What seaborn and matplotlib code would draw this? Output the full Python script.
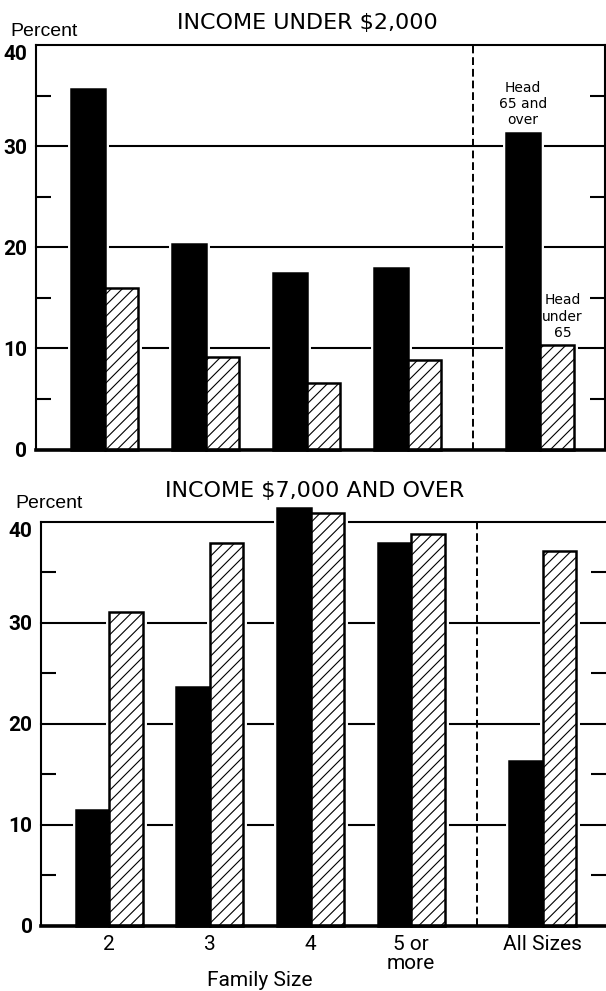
import pandas as pd
import matplotlib
matplotlib.use("Agg")
import matplotlib.pyplot as plt
import matplotlib.transforms as mtransforms
from matplotlib.patches import Rectangle
from matplotlib.ticker import FixedLocator
import seaborn as sns

# data (percent of families)
family_sizes = ["2", "3", "4", "5 or\nmore", "All Sizes"]
head_groups = ["Head 65 and over", "Head under 65"]

under_2000_old = [35.6, 20.3, 17.5, 17.9, 31.3]
under_2000_young = [16.0, 9.1, 6.6, 8.9, 10.3]
over_7000_old = [11.5, 23.6, 41.4, 37.9, 16.3]
over_7000_young = [31.1, 37.9, 40.9, 38.8, 37.1]

y_ticks = [0, 10, 20, 30, 40]
y_minor = [5, 15, 25, 35]

# layout: extra gap before the "All Sizes" group
x_pos = [0, 1, 2, 3, 4.31]
divider_x = 3.65

plt.rcParams["font.family"] = ["Roboto", "DejaVu Sans"]
plt.rcParams["hatch.linewidth"] = 0.8


def make_frame(old, young):
    return pd.DataFrame({
        "pos": x_pos * 2,
        "head": [head_groups[0]] * len(old) + [head_groups[1]] * len(young),
        "pct": old + young,
    })


def draw_panel(ax, df, xlim, right_spine):
    sns.barplot(data=df, x="pos", y="pct", hue="head", hue_order=head_groups,
                palette={head_groups[0]: "black", head_groups[1]: "white"},
                native_scale=True, width=0.665, gap=0, errorbar=None,
                legend=False, saturation=1, edgecolor="black", linewidth=1.8,
                ax=ax)
    for bar in ax.containers[1]:
        bar.set_hatch("///")
    # white halo behind each bar so grid lines stop short of the bars
    for bar in list(ax.patches):
        bar.set_zorder(3)
        bar.set_clip_on(False)
        halo = Rectangle(bar.get_xy(), bar.get_width(), bar.get_height(),
                         facecolor="white", edgecolor="white", lw=5,
                         joinstyle="miter", zorder=2, clip_on=False)
        ax.add_patch(halo)

    for y in y_ticks[1:]:
        ax.axhline(y, color="black", lw=1.5, zorder=1, clip_on=False)
    ax.axvline(divider_x, color="black", lw=1.4, ls=(0, (4, 2)), zorder=1)

    ax.set_xlim(*xlim)
    ax.set_ylim(0, 40)
    ax.set_yticks(y_ticks)
    ax.set_yticklabels([str(v) for v in y_ticks], fontsize=15, fontweight="bold")
    # the top label hangs below the frame line
    ax.get_yticklabels()[-1].set_verticalalignment("top")
    ax.yaxis.set_minor_locator(FixedLocator(y_minor))
    ax.tick_params(axis="y", which="major", length=0, pad=6)
    ax.tick_params(axis="y", which="minor", direction="in", length=11,
                   width=1.5, left=True, right=True)
    ax.set_xlabel("")
    ax.set_ylabel("")

    ax.spines["top"].set_visible(False)
    ax.spines["left"].set_linewidth(1.5)
    ax.spines["bottom"].set_linewidth(2.6)
    ax.spines["bottom"].set_zorder(4)
    if right_spine:
        ax.spines["right"].set_linewidth(1.5)
    else:
        ax.spines["right"].set_visible(False)


fig = plt.figure(figsize=(6.06, 9.91), dpi=100)

# top panel: income under $2,000
ax1 = fig.add_axes([0.0586, 0.5464, 0.9398, 0.4082])
draw_panel(ax1, make_frame(under_2000_old, under_2000_young), (-0.684, 4.954), True)
ax1.set_xticks([])

old_bar = ax1.containers[0][-1]
young_bar = ax1.containers[1][-1]
ax1.annotate("Head\n65 and\nover",
             xy=(old_bar.get_x() + old_bar.get_width() / 2, old_bar.get_height()),
             xytext=(0, 4), textcoords="offset points", ha="center", va="bottom",
             fontsize=10, family="DejaVu Sans", linespacing=1.2)
ax1.annotate("Head\nunder\n65",
             xy=(young_bar.get_x() + young_bar.get_width() / 2, young_bar.get_height()),
             xytext=(4, 4), textcoords="offset points", ha="center", va="bottom",
             fontsize=10, family="DejaVu Sans", linespacing=1.2)

# bottom panel: income $7,000 and over
ax2 = fig.add_axes([0.0677, 0.0659, 0.9323, 0.4074])
draw_panel(ax2, make_frame(over_7000_old, over_7000_young), (-0.679, 4.937), False)
ax2.set_xticks(x_pos)
ax2.set_xticklabels(family_sizes, fontsize=15)
for lbl in ax2.get_xticklabels():
    lbl.set_linespacing(0.95)
ax2.tick_params(axis="x", length=0, pad=7)

trans = mtransforms.blended_transform_factory(ax2.transData, fig.transFigure)
ax2.text(1.5, 0.0055, "Family Size", transform=trans, ha="center",
         va="baseline", fontsize=15)

fig.text(0.5066, 0.9707, "INCOME UNDER $2,000", ha="center", va="baseline",
         fontsize=16, family="DejaVu Sans")
fig.text(0.52, 0.4985, "INCOME $7,000 AND OVER", ha="center", va="baseline",
         fontsize=16, family="DejaVu Sans")
fig.text(0.0165, 0.9637, "Percent", ha="left", va="baseline", fontsize=14,
         family="Liberation Sans")
fig.text(0.0254, 0.4874, "Percent", ha="left", va="baseline", fontsize=14,
         family="Liberation Sans")

fig.savefig("out.png", dpi=100)
